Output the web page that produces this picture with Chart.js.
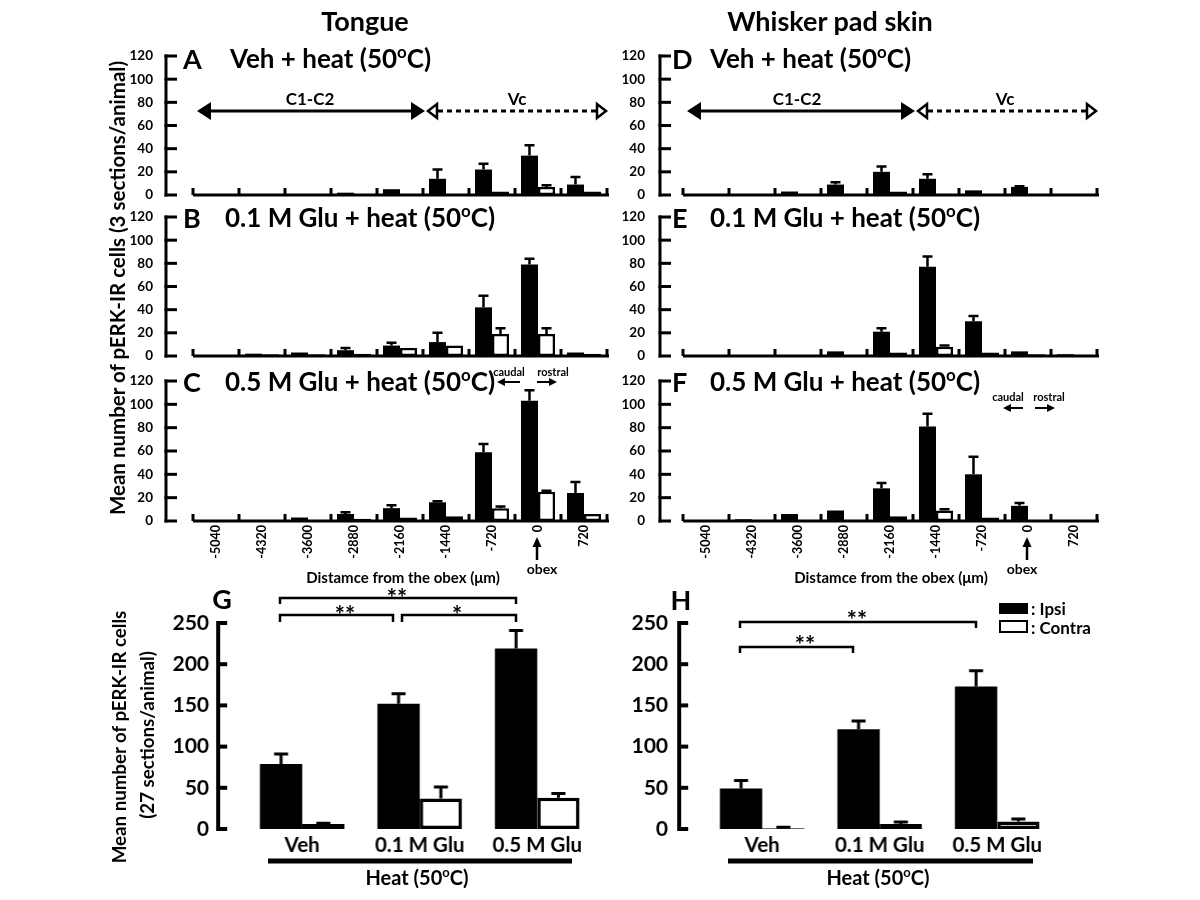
<!DOCTYPE html>
<html><head><meta charset="utf-8">
<script src="https://cdn.jsdelivr.net/npm/chart.js@4.4.0/dist/chart.umd.min.js"></script>
<style>
body{margin:0;width:1200px;height:900px;background:#fff;position:relative;overflow:hidden;font-family:Lato,'Open Sans',sans-serif;color:#000}
.t{position:absolute;white-space:nowrap;line-height:1;font-weight:700;z-index:5}
canvas{position:absolute;z-index:1}
sup{font-size:0.65em;vertical-align:0.6em;line-height:0}
svg{position:absolute;left:0;top:0;z-index:4}
</style></head><body>
<script>
// ---------- data ----------
const positions = ['-5040','-4320','-3600','-2880','-2160','-1440','-720','0','720'];
const groups = ['Veh','0.1 M Glu','0.5 M Glu'];

// Tongue
const ipsiA      = [0,0,0,2,5,14,22,34,9];
const ipsiErrA   = [0,0,0,0,0,8,5,9,6.5];
const contraA    = [0,0,0,0,0,0,3,7,3];
const contraErrA = [0,0,0,0,0,0,0,1.5,0];

const ipsiB      = [0,2,3,5,9,12,42,79,3];
const ipsiErrB   = [0,0,0,2,2.5,8,10,5,0];
const contraB    = [0,1.5,1.5,2,7,9,19,19,2];
const contraErrB = [0,0,0,0,0,0,5,5,0];

const ipsiC      = [0,0,3,6,11,16,59,103,24];
const ipsiErrC   = [0,0,0,1.5,2.5,1,7,9,9.5];
const contraC    = [0,0,0,2,3,4,11,25,6];
const contraErrC = [0,0,0,0,0,0,1.5,1,0];

// Whisker pad skin
const ipsiD      = [0,0,3,9,20,14,4,7,0];
const ipsiErrD   = [0,0,0,2,4.5,4,0,0.5,0];
const contraD    = [0,0,0,0,3,1,0,0,0];
const contraErrD = [0,0,0,0,0,0,0,0,0];

const ipsiE      = [0,0,0,4,21,77,30,4,1.5];
const ipsiErrE   = [0,0,0,0,3,9,4.5,0,0];
const contraE    = [0,0,0,0,3,8,3,1.5,1];
const contraErrE = [0,0,0,0,0,1,0,0,0];

const ipsiF      = [0,1.5,6,9,28,81,40,13,0];
const ipsiErrF   = [0,0,0,0,4.5,11,15,2.5,0];
const contraF    = [0,0,0,0,4,9,3,0,0];
const contraErrF = [0,0,0,0,0,1,0,0,0];

// Totals (27 sections/animal)
const ipsiG      = [79,152,219];
const ipsiErrG   = [12,12,22];
const contraG    = [6,37,38];
const contraErrG = [1,14,5];

const ipsiH      = [49,121,173];
const ipsiErrH   = [10,10,19];
const contraH    = [1,6,9];
const contraErrH = [1,2.5,3];

// ---------- drawing helpers ----------
Chart.defaults.font.family = 'Lato';
Chart.defaults.color = '#000';

const decor = {
  id:'decor',
  afterDatasetsDraw(chart, args, o){
    const {ctx, chartArea:ca, scales:{x, y}} = chart;
    ctx.save();
    ctx.strokeStyle = '#000';
    // error bars (upper only)
    ctx.lineWidth = o.errW;
    o.errs.forEach((errArr, di) => {
      const meta = chart.getDatasetMeta(di);
      const vals = chart.data.datasets[di].data;
      meta.data.forEach((bar, j) => {
        const e = errArr[j];
        if (!e) return;
        const yt = y.getPixelForValue(vals[j] + e);
        ctx.beginPath();
        ctx.moveTo(bar.x, bar.y); ctx.lineTo(bar.x, yt);
        ctx.moveTo(bar.x - o.cap/2, yt); ctx.lineTo(bar.x + o.cap/2, yt);
        ctx.stroke();
      });
    });
    // y axis with inward ticks
    const ax = o.axisX - o.cx;
    ctx.lineWidth = o.axisW;
    const y0 = y.getPixelForValue(y.min), y1 = y.getPixelForValue(y.max);
    ctx.beginPath(); ctx.moveTo(ax, y0 + o.axisW/2); ctx.lineTo(ax, y1 - o.axisW/2); ctx.stroke();
    y.ticks.forEach(t => {
      const py = y.getPixelForValue(t.value);
      ctx.beginPath(); ctx.moveTo(ax - o.axisW/2, py); ctx.lineTo(ax + o.tickLen, py); ctx.stroke();
    });
    // baseline with upward group ticks
    if (o.baseline) {
      const by = y.getPixelForValue(0);
      ctx.beginPath(); ctx.moveTo(ca.left, by); ctx.lineTo(ca.right + 2, by); ctx.stroke();
      const n = x.ticks.length;
      const step = (ca.right - ca.left) / n;
      for (let i = 0; i <= n; i++) {
        const px = (i < n ? x.getPixelForValue(i) : x.getPixelForValue(n-1) + step) - step/2;
        ctx.beginPath(); ctx.moveTo(px, by); ctx.lineTo(px, by - 7); ctx.stroke();
      }
    }
    ctx.restore();
  }
};

function makeBar(s){
  const cx = s.labelRight - s.lblSpace, cy = s.top - 16;
  const cw = s.right + 14 - cx, ch = s.bottom + s.xh - cy;
  const cv = document.createElement('canvas');
  cv.width = cw; cv.height = ch;
  cv.style.left = cx + 'px'; cv.style.top = cy + 'px';
  cv.style.width = cw + 'px'; cv.style.height = ch + 'px';
  document.body.appendChild(cv);
  new Chart(cv, {
    type:'bar',
    data:{labels:s.labels, datasets:[
      {label:'Ipsi', data:s.ipsi, backgroundColor:'#000', borderColor:'#000', borderWidth:0,
       barPercentage:1, categoryPercentage:s.catPct},
      {label:'Contra', data:s.contra, backgroundColor:'#fff', borderColor:'#000', borderWidth:s.bw,
       borderSkipped:false, barPercentage:1, categoryPercentage:s.catPct}
    ]},
    options:{
      responsive:false, animation:false, devicePixelRatio:1,
      layout:{padding:{left:0, top:s.top - cy, right:cx + cw - s.right, bottom:0}},
      plugins:{legend:{display:false}, tooltip:{enabled:false},
        decor:{errs:[s.ipsiErr, s.contraErr], cx:cx, axisX:s.axisX, axisW:s.axisW, tickLen:s.tickLen,
               baseline:s.baseline, cap:s.cap, errW:s.errW}},
      scales:{
        x:{type:'category', offset:true, grid:{display:false, drawTicks:false}, border:{display:false},
           ticks:{display:s.showX, autoSkip:false, font:{size:s.xFont, weight:'bold'}, color:'#000',
                  padding:s.xPad, maxRotation:s.rot, minRotation:s.rot},
           afterFit(sc){ sc.height = s.xh; sc.paddingLeft = 0; sc.paddingRight = 0; }},
        y:{min:0, max:s.yMax, grid:{display:false, drawTicks:false}, border:{display:false},
           ticks:{stepSize:s.yStep, font:{size:s.yFont, weight:'bold'}, color:'#000',
                  padding:s.left - s.labelRight},
           afterFit(sc){ sc.width = s.left - cx; sc.paddingTop = 0; sc.paddingBottom = 0; }}
      }
    },
    plugins:[decor]
  });
}

const topBase = {labels:positions, yMax:120, yStep:20, yFont:13.5, catPct:0.74, bw:2.5, axisW:3, tickLen:11,
  baseline:true, cap:10, errW:2.5, xh:12, showX:false, xFont:12.5, xPad:4, rot:90, lblSpace:40};
const rowY = [{top:56,bottom:195},{top:216.7,bottom:355.7},{top:380.7,bottom:521}];
const colL = {left:193,right:607,axisX:166,labelRight:153};
const colR = {left:683,right:1097,axisX:660,labelRight:645};

makeBar({...topBase, ...colL, ...rowY[0], ipsi:ipsiA, ipsiErr:ipsiErrA, contra:contraA, contraErr:contraErrA});
makeBar({...topBase, ...colL, ...rowY[1], ipsi:ipsiB, ipsiErr:ipsiErrB, contra:contraB, contraErr:contraErrB});
makeBar({...topBase, ...colL, ...rowY[2], ipsi:ipsiC, ipsiErr:ipsiErrC, contra:contraC, contraErr:contraErrC, showX:true, xh:50});
makeBar({...topBase, ...colR, ...rowY[0], ipsi:ipsiD, ipsiErr:ipsiErrD, contra:contraD, contraErr:contraErrD});
makeBar({...topBase, ...colR, ...rowY[1], ipsi:ipsiE, ipsiErr:ipsiErrE, contra:contraE, contraErr:contraErrE});
makeBar({...topBase, ...colR, ...rowY[2], ipsi:ipsiF, ipsiErr:ipsiErrF, contra:contraF, contraErr:contraErrF, showX:true, xh:50});

const botBase = {labels:groups, yMax:250, yStep:50, yFont:21, catPct:0.72, bw:3.5, axisW:4, tickLen:9,
  baseline:false, cap:14, errW:3, xh:32, showX:true, xFont:20.5, xPad:4, rot:0, lblSpace:50, top:622.7, bottom:829.3};
makeBar({...botBase, left:243.25, right:595.75, axisX:218, labelRight:209, ipsi:ipsiG, ipsiErr:ipsiErrG, contra:contraG, contraErr:contraErrG});
makeBar({...botBase, left:703.25, right:1055.75, axisX:679, labelRight:668, ipsi:ipsiH, ipsiErr:ipsiErrH, contra:contraH, contraErr:contraErrH});

// ---------- text ----------
const deg = '(50<sup>o</sup>C)';
const texts = [
  ['Tongue',365,20,27,'c'], ['Whisker pad skin',830,20,27,'c'],
  ['A',183,58,27,'l'], ['Veh + heat '+deg,230,58,26,'l'],
  ['B',183,217,27,'l'], ['0.1 M Glu + heat '+deg,225,217,26,'l'],
  ['C',183,381,27,'l'], ['0.5 M Glu + heat '+deg,225,381,26,'l'],
  ['D',672,58,27,'l'], ['Veh + heat '+deg,710,58,26,'l'],
  ['E',672,217,27,'l'], ['0.1 M Glu + heat '+deg,710,217,26,'l'],
  ['F',672,381,27,'l'], ['0.5 M Glu + heat '+deg,710,381,26,'l'],
  ['C1-C2',310,98,17,'c'], ['Vc',517,98,17,'c'], ['C1-C2',797,98,17,'c'], ['Vc',1005,98,17,'c'],
  ['caudal',509,371,11,'c'], ['rostral',553,371,11,'c'],
  ['caudal',1008,396,11,'c'], ['rostral',1049,396,11,'c'],
  ['obex',542,569,14,'c'], ['obex',1022,569,14,'c'],
  ['Distamce from the obex (\u03bcm)',403,577,15,'c'], ['Distamce from the obex (\u03bcm)',891,577,15,'c'],
  ['G',222,598,27,'c'], ['H',681,599,27,'c'],
  ['**',397,598,24,'c'], ['**',345,615,24,'c'], ['*',457,615,24,'c'],
  ['**',857,620,24,'c'], ['**',805,645,24,'c'],
  [': Ipsi',1031,608,17,'l'], [': Contra',1031,627,17,'l'],
  ['Heat '+deg,417,877,20,'c'], ['Heat '+deg,878,877,20,'c'],
  ['Mean number of pERK-IR cells (3 sections/animal)',117,288,20.5,'r'],
  ['Mean number of pERK-IR cells',119,737,18.7,'r'],
  ['(27 sections/animal)',147,735,18.7,'r']
];
texts.forEach(([s,x,y,f,a]) => {
  const d = document.createElement('div');
  d.className = 't';
  d.innerHTML = s;
  d.style.fontSize = f + 'px';
  d.style.left = x + 'px'; d.style.top = y + 'px';
  d.style.transform = a === 'c' ? 'translate(-50%,-50%)' : a === 'l' ? 'translate(0,-50%)' : 'translate(-50%,-50%) rotate(-90deg)';
  document.body.appendChild(d);
});

// ---------- decorations (arrows, brackets, legend) ----------
function arrowsAD(dx){
  return `
  <line x1="${205+dx}" y1="111" x2="${415+dx}" y2="111" stroke="#000" stroke-width="3"/>
  <polygon points="${197+dx},111 ${211+dx},102 ${211+dx},120" fill="#000"/>
  <polygon points="${425+dx},111 ${411+dx},102 ${411+dx},120" fill="#000"/>
  <line x1="${438+dx}" y1="111" x2="${596+dx}" y2="111" stroke="#000" stroke-width="3" stroke-dasharray="5,4"/>
  <polygon points="${428+dx},111 ${437+dx},104 ${437+dx},118" fill="#fff" stroke="#000" stroke-width="2.5"/>
  <polygon points="${606+dx},111 ${597+dx},104 ${597+dx},118" fill="#fff" stroke="#000" stroke-width="2.5"/>`;
}
function crArrows(l1,l2,r1,r2,y){
  return `
  <line x1="${l1}" y1="${y}" x2="${l2+6}" y2="${y}" stroke="#000" stroke-width="2"/>
  <polygon points="${l2},${y} ${l2+8},${y-4} ${l2+8},${y+4}" fill="#000"/>
  <line x1="${r1}" y1="${y}" x2="${r2-6}" y2="${y}" stroke="#000" stroke-width="2"/>
  <polygon points="${r2},${y} ${r2-8},${y-4} ${r2-8},${y+4}" fill="#000"/>`;
}
function obexArrow(x){
  return `
  <line x1="${x}" y1="560" x2="${x}" y2="543" stroke="#000" stroke-width="2.5"/>
  <polygon points="${x},537 ${x-4.5},547 ${x+4.5},547" fill="#000"/>`;
}
const svg = `<svg width="1200" height="900" xmlns="http://www.w3.org/2000/svg">
  ${arrowsAD(0)}${arrowsAD(490)}
  ${crArrows(520,497,537,557,382)}${crArrows(1023,1003,1035,1055,408)}
  ${obexArrow(537)}${obexArrow(1027)}
  <g fill="none" stroke="#000" stroke-width="2.5">
    <path d="M280,604 V598 H516 V604"/>
    <path d="M280,622 V615 H393 V622"/>
    <path d="M402,622 V615 H516 V622"/>
    <path d="M740,628 V622 H976 V628"/>
    <path d="M740,653 V647 H853 V653"/>
  </g>
  <line x1="268" y1="861" x2="572" y2="861" stroke="#000" stroke-width="5"/>
  <line x1="728" y1="861" x2="1033" y2="861" stroke="#000" stroke-width="5"/>
  <rect x="999" y="603" width="29" height="11" fill="#000"/>
  <rect x="1000" y="621" width="27" height="11" fill="#fff" stroke="#000" stroke-width="2"/>
</svg>`;
document.body.insertAdjacentHTML('beforeend', svg);
</script>
</body></html>
